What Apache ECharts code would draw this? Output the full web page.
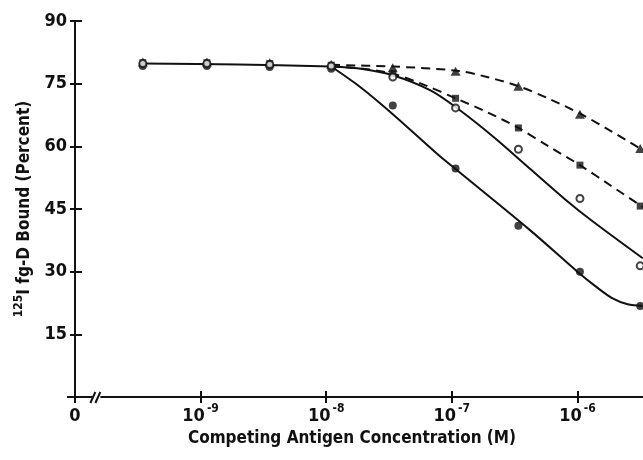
<!DOCTYPE html>
<html>
<head>
<meta charset="utf-8">
<script src="https://cdn.jsdelivr.net/npm/echarts@6/dist/echarts.min.js"></script>
<style>
html,body{margin:0;padding:0;background:#fff;}
#chart{width:643px;height:460px;}
</style>
</head>
<body>
<div id="chart"></div>
<script>
// x values are log10 of molar concentration; -10 stands for the "0" position
const xTickValues = [-10, -9, -8, -7, -6];
const xTickExponents = {"-9": "-9", "-8": "-8", "-7": "-7", "-6": "-6"};
const yTickValues = [0, 15, 30, 45, 60, 75, 90];

const xPoints = [-9.46, -8.95, -8.45, -7.96, -7.47, -6.97, -6.47, -5.98, -5.50];
const triangleValues = [80.2, 80.2, 80.0, 79.6, 78.8, 78.0, 74.4, 67.7, 59.5];
const squareValues   = [80.0, 80.0, 79.8, 79.4, 77.4, 71.5, 64.4, 55.5, 45.7];
const openValues     = [79.8, 79.8, 79.6, 79.2, 76.6, 69.2, 59.3, 47.5, 31.4];
const filledValues   = [79.2, 79.2, 79.0, 78.6, 69.8, 54.7, 41.0, 30.0, 21.8];

// fitted curves as drawn in the figure
const plateauCurve = [[-9.46, 79.8], [-8.7, 79.6], [-7.96, 79.1]];
const filledCurve = [[-7.96, 79.1], [-7.73, 74.2], [-7.47, 67.7], [-7.12, 58.3], [-6.98, 54.8], [-6.38, 40.0], [-6.00, 30.0], [-5.86, 26.6], [-5.72, 23.6], [-5.60, 22.2], [-5.48, 21.8]];
const openCurve = [[-7.96, 79.1], [-7.71, 78.5], [-7.47, 77.0], [-7.17, 73.4], [-6.97, 69.4], [-6.67, 62.3], [-6.38, 54.7], [-6.09, 47.1], [-5.89, 42.3], [-5.48, 33.2]];
const squareCurve = [[-7.96, 79.1], [-7.71, 78.6], [-7.47, 77.4], [-7.21, 74.6], [-6.97, 71.5], [-6.72, 68.2], [-6.47, 64.4], [-6.23, 60.0], [-5.98, 55.5], [-5.73, 50.5], [-5.48, 45.5]];
const triangleCurve = [[-7.96, 79.5], [-7.47, 79.1], [-6.96, 78.1], [-6.72, 76.6], [-6.47, 74.4], [-6.22, 71.3], [-5.97, 67.7], [-5.73, 63.6], [-5.48, 59.1]];

const FONT = '"DejaVu Sans Condensed", "Liberation Sans Narrow", sans-serif';
const INK = '#111';

const pair = (xs, ys) => xs.map((x, i) => [x, ys[i]]);

const chart = echarts.init(document.getElementById('chart'), null, {renderer: 'canvas'});

const xMin = -10, xMax = -5.478;
const baseX = {
  type: 'value', min: xMin, max: xMax, position: 'bottom', splitLine: {show: false}
};
const baseY = {
  type: 'value', min: 0, max: 90, interval: 15, position: 'left', splitLine: {show: false}
};

const lineCommon = {type: 'line', symbol: 'none', smooth: 0.3, silent: true, z: 2};

chart.setOption({
  backgroundColor: '#fff',
  animation: false,
  grid: {left: 75, right: 0, top: 21, bottom: 63, containLabel: false},
  xAxis: [
    Object.assign({}, baseX, {
      axisLine: {show: true, lineStyle: {color: INK, width: 2}},
      axisTick: {show: true, customValues: xTickValues, length: 6, lineStyle: {color: INK, width: 2}},
      axisLabel: {
        show: true, customValues: xTickValues, margin: 6,
        formatter: v => {
          if (Math.abs(v - (-10)) < 1e-6) return '{b|0}';
          const k = String(Math.round(v));
          return '{b|10}{s|' + xTickExponents[k] + '}';
        },
        rich: {
          b: {fontFamily: FONT, fontWeight: 'bold', fontSize: 18, color: INK, verticalAlign: 'bottom', lineHeight: 22},
          s: {fontFamily: FONT, fontWeight: 'bold', fontSize: 12, color: INK, verticalAlign: 'top', lineHeight: 22, padding: [0, 0, 0, 2]}
        }
      },
      name: 'Competing Antigen Concentration (M)',
      nameLocation: 'middle', nameGap: 33,
      nameTextStyle: {fontFamily: FONT, fontWeight: 'bold', fontSize: 17, color: INK, padding: [0, 14, 0, 0]}
    }),
    Object.assign({}, baseX, {
      axisLine: {show: false},
      axisTick: {show: true, inside: true, customValues: xTickValues, length: 6, lineStyle: {color: INK, width: 2}},
      axisLabel: {show: false}
    })
  ],
  yAxis: [
    Object.assign({}, baseY, {
      axisLine: {show: true, lineStyle: {color: INK, width: 2}},
      axisTick: {show: true, length: 5, lineStyle: {color: INK, width: 2}},
      axisLabel: {
        show: true, margin: 8,
        formatter: v => (v === 0 ? '' : String(v)),
        fontFamily: FONT, fontWeight: 'bold', fontSize: 18, color: INK
      },
      name: '{s|125}{m|I fg-D Bound (Percent)}',
      nameLocation: 'middle', nameGap: 36, nameRotate: 90,
      nameTextStyle: {
        padding: [0, 0, 0, 0],
        rich: {
          s: {fontFamily: FONT, fontWeight: 'bold', fontSize: 12, color: INK, verticalAlign: 'top', lineHeight: 21},
          m: {fontFamily: FONT, fontWeight: 'bold', fontSize: 17, color: INK, verticalAlign: 'bottom', lineHeight: 21}
        }
      }
    }),
    Object.assign({}, baseY, {
      axisLine: {show: false},
      axisTick: {show: true, inside: true, length: 7, lineStyle: {color: INK, width: 2}},
      axisLabel: {show: false}
    })
  ],
  series: [
    Object.assign({}, lineCommon, {name: 'plateau', data: plateauCurve, lineStyle: {color: INK, width: 2}}),
    Object.assign({}, lineCommon, {name: 'filled fit', data: filledCurve, lineStyle: {color: INK, width: 2}}),
    Object.assign({}, lineCommon, {name: 'open fit', data: openCurve, lineStyle: {color: INK, width: 2}}),
    Object.assign({}, lineCommon, {name: 'square fit', data: squareCurve, lineStyle: {color: INK, width: 2, type: [9, 6]}}),
    Object.assign({}, lineCommon, {name: 'triangle fit', data: triangleCurve, lineStyle: {color: INK, width: 2, type: [9, 6]}}),
    {type: 'scatter', name: 'triangles', data: pair(xPoints, triangleValues), symbol: 'triangle', symbolSize: [10, 9], itemStyle: {color: INK}, z: 3, clip: false},
    {type: 'scatter', name: 'squares', data: pair(xPoints, squareValues), symbol: 'rect', symbolSize: 7, itemStyle: {color: INK}, z: 3, clip: false},
    {type: 'scatter', name: 'open circles', data: pair(xPoints, openValues), symbol: 'circle', symbolSize: 7, itemStyle: {color: '#fff', borderColor: INK, borderWidth: 2}, z: 4, clip: false},
    {type: 'scatter', name: 'filled circles', data: pair(xPoints, filledValues), symbol: 'circle', symbolSize: 8, itemStyle: {color: INK}, z: 3, clip: false}
  ]
});

// axis break decoration "//" near the origin
const breakValue = -9.83;
const bp = chart.convertToPixel({xAxisIndex: 0, yAxisIndex: 0}, [breakValue, 0]);
const origin = chart.convertToPixel({xAxisIndex: 0, yAxisIndex: 0}, [xMin, 0]);
chart.setOption({
  graphic: [
    {type: 'rect', shape: {x: bp[0] - 4, y: bp[1] - 2, width: 8, height: 4}, style: {fill: '#fff'}, z: 10},
    {type: 'line', shape: {x1: bp[0] - 6, y1: bp[1] + 6, x2: bp[0] - 1, y2: bp[1] - 5}, style: {stroke: INK, lineWidth: 2}, z: 11},
    {type: 'line', shape: {x1: bp[0] - 1, y1: bp[1] + 6, x2: bp[0] + 4, y2: bp[1] - 5}, style: {stroke: INK, lineWidth: 2}, z: 11},
    {type: 'line', shape: {x1: origin[0] - 8, y1: origin[1], x2: origin[0], y2: origin[1]}, style: {stroke: INK, lineWidth: 2}, z: 11}
  ]
});
</script>
</body>
</html>
